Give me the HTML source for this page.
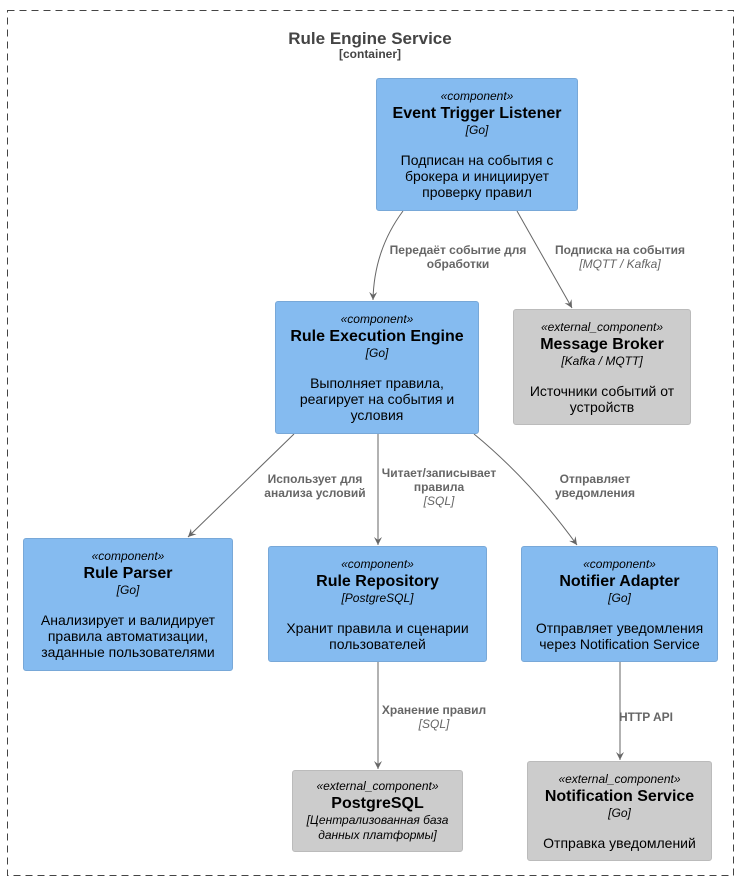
<!DOCTYPE html>
<html><head><meta charset="utf-8"><style>
body{margin:0;width:738px;height:882px;background:#fff;position:relative;overflow:hidden;font-family:"Liberation Sans","DejaVu Sans",sans-serif;}
.t{position:absolute;text-align:center;color:#444;}
.b{position:absolute;box-sizing:border-box;border-radius:3px;text-align:center;color:#000;display:flex;flex-direction:column;justify-content:center;}
.c{background:#85bbf0;border:1px solid #78a8d8;}
.e{background:#cccccc;border:1px solid #bbb;}
.s{font-size:12px;font-style:italic;line-height:15px;}
.n{font-size:16px;font-weight:bold;line-height:19px;}
.g{font-size:12px;font-style:italic;line-height:15px;}
.d{font-size:14px;line-height:16px;margin-top:14px;}
.l{position:absolute;font-size:12px;font-weight:bold;color:#666;text-align:center;line-height:14px;}
.l i{font-weight:normal;}
</style></head><body>
<div class="t" style="left:0;width:740px;top:29px;font-size:17px;font-weight:bold;">Rule Engine Service</div>
<div class="t" style="left:0;width:740px;top:47px;font-size:12px;font-weight:bold;">[container]</div>

<svg width="738" height="882" style="position:absolute;left:0;top:0">
<rect x="7.5" y="10.5" width="726" height="865" fill="none" stroke="#444" stroke-width="1" stroke-dasharray="7,5"/>
<defs><marker id="a" markerWidth="10" markerHeight="10" refX="8" refY="5" orient="auto" markerUnits="userSpaceOnUse"><path d="M0,1 L8,5 L0,9 L3,5 Z" fill="#666"/></marker></defs>
<g stroke="#666" stroke-width="1" fill="none" marker-end="url(#a)">
<path d="M403,211 Q374,250 373,300"/>
<path d="M517,211 L572,308"/>
<path d="M294,434 L188,537"/>
<path d="M378,434 L378,545"/>
<path d="M474,434 Q530,480 577,545"/>
<path d="M378,662 L378,769"/>
<path d="M620,662 L620,760"/>
</g></svg>

<div class="b c" style="left:376px;top:78px;width:202px;height:133px;"><div class="s">«component»</div><div class="n">Event Trigger Listener</div><div class="g">[Go]</div><div class="d">Подписан на события с брокера и инициирует проверку правил</div></div>
<div class="b c" style="left:275px;top:301px;width:204px;height:133px;"><div class="s">«component»</div><div class="n">Rule Execution Engine</div><div class="g">[Go]</div><div class="d">Выполняет правила, реагирует на события и условия</div></div>
<div class="b e" style="left:513px;top:309px;width:178px;height:116px;"><div class="s">«external_component»</div><div class="n">Message Broker</div><div class="g">[Kafka / MQTT]</div><div class="d">Источники событий от устройств</div></div>
<div class="b c" style="left:23px;top:538px;width:210px;height:133px;"><div class="s">«component»</div><div class="n">Rule Parser</div><div class="g">[Go]</div><div class="d">Анализирует и валидирует правила автоматизации, заданные пользователями</div></div>
<div class="b c" style="left:268px;top:546px;width:219px;height:116px;"><div class="s">«component»</div><div class="n">Rule Repository</div><div class="g">[PostgreSQL]</div><div class="d">Хранит правила и сценарии пользователей</div></div>
<div class="b c" style="left:521px;top:546px;width:197px;height:116px;"><div class="s">«component»</div><div class="n">Notifier Adapter</div><div class="g">[Go]</div><div class="d">Отправляет уведомления через Notification Service</div></div>
<div class="b e" style="left:292px;top:770px;width:171px;height:82px;"><div class="s">«external_component»</div><div class="n">PostgreSQL</div><div class="g">[Централизованная база данных платформы]</div></div>
<div class="b e" style="left:527px;top:761px;width:185px;height:100px;"><div class="s">«external_component»</div><div class="n">Notification Service</div><div class="g">[Go]</div><div class="d">Отправка уведомлений</div></div>

<div class="l" style="left:380px;top:243px;width:156px;">Передаёт событие для обработки</div>
<div class="l" style="left:545px;top:243px;width:150px;">Подписка на события<br><i>[MQTT / Kafka]</i></div>
<div class="l" style="left:255px;top:472px;width:120px;">Использует для анализа условий</div>
<div class="l" style="left:374px;top:466px;width:130px;">Читает/записывает правила<br><i>[SQL]</i></div>
<div class="l" style="left:540px;top:472px;width:110px;">Отправляет уведомления</div>
<div class="l" style="left:374px;top:703px;width:120px;">Хранение правил<br><i>[SQL]</i></div>
<div class="l" style="left:616px;top:710px;width:60px;">HTTP API</div>
</body></html>
